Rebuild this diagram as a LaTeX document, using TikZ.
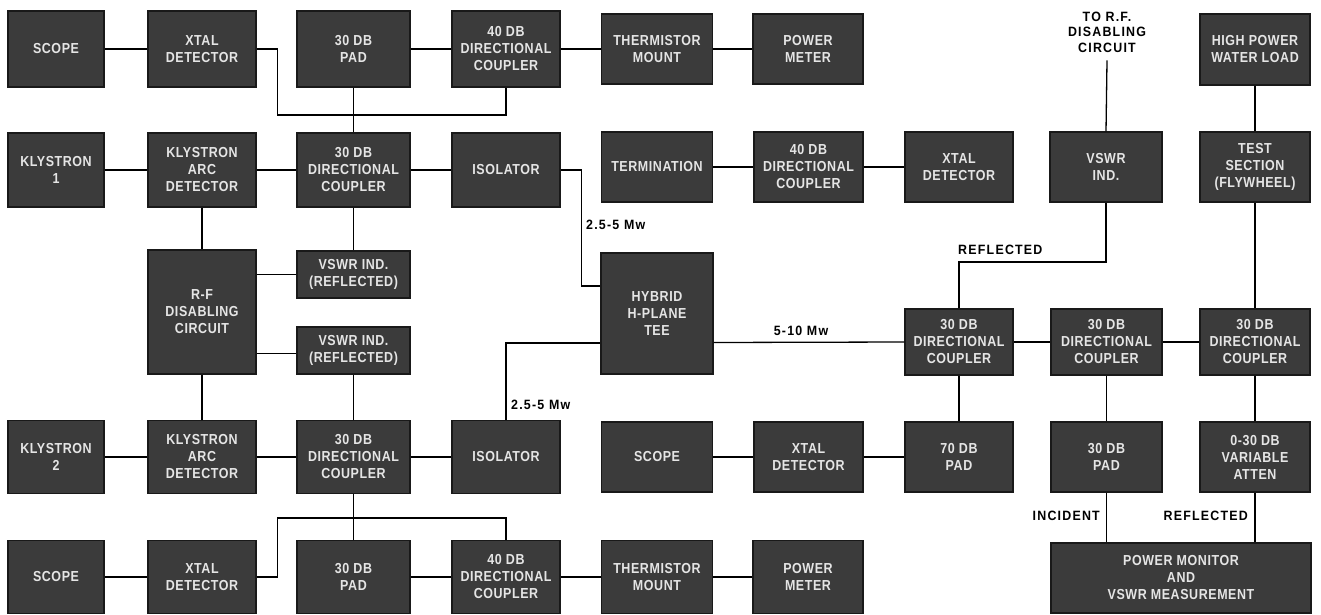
\documentclass[tikz,border=0pt]{standalone}
\usepackage{fontspec}
\newfontfamily\blkfont{Liberation Sans}[FakeStretch=0.86,LetterSpace=4]
\newfontfamily\labfont{Liberation Sans}[FakeStretch=0.92,LetterSpace=9]
\begin{document}
\begin{tikzpicture}[x=1pt,y=-1pt,
  blk/.style={draw=black!90,line width=1.2pt,fill=black!77,text=white!90!black,
    font=\blkfont\bfseries\fontsize{14.5}{17}\selectfont,align=center,
    inner sep=0pt,minimum width=108pt,minimum height=73pt},
  lbl/.style={font=\labfont\bfseries\fontsize{13.5}{15.5}\selectfont,inner sep=0pt},
  wire/.style={line width=1.3pt}]
  \useasboundingbox (0,0) rectangle (1321,615);
  % row 1
  \node[blk,minimum width=96pt,minimum height=76pt] (scopeA) at (56,49) {SCOPE};
  \node[blk,minimum height=76pt] (xtalA) at (202,49) {XTAL\\DETECTOR};
  \node[blk,minimum width=113pt,minimum height=76pt] (padA) at (353.5,49) {30 DB\\PAD};
  \node[blk,minimum height=76pt] (dcA) at (506,49) {40 DB\\DIRECTIONAL\\COUPLER};
  \node[blk,minimum width=111pt,minimum height=70pt] (thermA) at (657,49) {THERMISTOR\\MOUNT};
  \node[blk,minimum width=110pt,minimum height=70pt] (pmA) at (808,49) {POWER\\METER};
  \node[lbl,align=center] (tordc) at (1107,32) {TO R.F.\\DISABLING\\CIRCUIT};
  \node[blk,minimum width=110pt,minimum height=71pt] (water) at (1255,49.5) {HIGH POWER\\WATER LOAD};
  % row 2
  \node[blk,minimum width=96pt,minimum height=74pt] (klysA) at (56,170) {KLYSTRON\\1};
  \node[blk,minimum height=74pt] (arcA) at (202,170) {KLYSTRON\\ARC\\DETECTOR};
  \node[blk,minimum width=113pt,minimum height=74pt] (dcB) at (353.5,170) {30 DB\\DIRECTIONAL\\COUPLER};
  \node[blk,minimum height=74pt] (isoA) at (506,170) {ISOLATOR};
  \node[blk,minimum width=111pt,minimum height=70pt] (term) at (657,167) {TERMINATION};
  \node[blk,minimum width=109pt,minimum height=70pt] (dcT) at (808.5,167) {40 DB\\DIRECTIONAL\\COUPLER};
  \node[blk,minimum height=70pt] (xtalR) at (959,167) {XTAL\\DETECTOR};
  \node[blk,minimum width=112pt,minimum height=70pt] (vswrR) at (1106,167) {VSWR\\IND.};
  \node[blk,minimum width=110pt,minimum height=70pt] (test) at (1255,167) {TEST\\SECTION\\(FLYWHEEL)};
  % middle
  \node[blk,minimum height=124pt] (rf) at (202,312) {R-F\\DISABLING\\CIRCUIT};
  \node[blk,minimum width=113pt,minimum height=47pt] (vswrA) at (353.5,274.5) {VSWR IND.\\(REFLECTED)};
  \node[blk,minimum width=113pt,minimum height=47pt] (vswrB) at (353.5,350.5) {VSWR IND.\\(REFLECTED)};
  \node[blk,minimum width=112pt,minimum height=121pt] (hyb) at (657,313.5) {HYBRID\\H-PLANE\\TEE};
  \node[blk,minimum height=66pt] (dcR1) at (959,342) {30 DB\\DIRECTIONAL\\COUPLER};
  \node[blk,minimum width=111pt,minimum height=66pt] (dcR2) at (1106.5,342) {30 DB\\DIRECTIONAL\\COUPLER};
  \node[blk,minimum width=110pt,minimum height=66pt] (dcR3) at (1255,342) {30 DB\\DIRECTIONAL\\COUPLER};
  % row 4
  \node[blk,minimum width=96pt] (klysB) at (56,457) {KLYSTRON\\2};
  \node[blk] (arcB) at (202,457) {KLYSTRON\\ARC\\DETECTOR};
  \node[blk,minimum width=113pt] (dcC) at (353.5,457) {30 DB\\DIRECTIONAL\\COUPLER};
  \node[blk] (isoB) at (506,457) {ISOLATOR};
  \node[blk,minimum width=111pt,minimum height=70pt] (scopeB) at (657,457) {SCOPE};
  \node[blk,minimum width=109pt,minimum height=70pt] (xtalB) at (808.5,457) {XTAL\\DETECTOR};
  \node[blk,minimum height=70pt] (padS) at (959,457) {70 DB\\PAD};
  \node[blk,minimum width=111pt,minimum height=70pt] (padB) at (1106.5,457) {30 DB\\PAD};
  \node[blk,minimum width=110pt,minimum height=70pt] (atten) at (1255,457) {0-30 DB\\VARIABLE\\ATTEN};
  % row 5
  \node[blk,minimum width=96pt] (scopeC) at (56,577) {SCOPE};
  \node[blk] (xtalC) at (202,577) {XTAL\\DETECTOR};
  \node[blk,minimum width=113pt] (padC) at (353.5,577) {30 DB\\PAD};
  \node[blk] (dcD) at (506,577) {40 DB\\DIRECTIONAL\\COUPLER};
  \node[blk,minimum width=111pt] (thermB) at (657,577) {THERMISTOR\\MOUNT};
  \node[blk,minimum width=110pt] (pmB) at (808,577) {POWER\\METER};
  \node[blk,minimum width=260pt,minimum height=70pt] (pmon) at (1181,578) {POWER MONITOR\\AND\\VSWR MEASUREMENT};
  % upper chain
  \coordinate (forkA) at (353.5,115);
  \draw[wire] (scopeA) -- (xtalA);
  \draw[wire] (padA) -- (dcA) -- (thermA) -- (pmA);
  \draw[wire] (xtalA.east) -- ++(21,0) |- (forkA) -| (dcA.south);
  \draw[wire] (padA) -- (dcB);
  \draw[wire] (klysA) -- (arcA) -- (dcB) -- (isoA);
  \draw[wire] (arcA) -- (rf) -- (arcB);
  \draw[wire] (dcB) -- (vswrA);
  \draw[wire] (vswrA.west -| rf.east) -- (vswrA.west);
  \draw[wire] ([yshift=-3pt]vswrB.west -| rf.east) -- ([yshift=-3pt]vswrB.west);
  \draw[wire] (vswrB) -- (dcC);
  % lower chain
  \coordinate (forkB) at (353.5,518);
  \draw[wire] (klysB) -- (arcB) -- (dcC) -- (isoB);
  \draw[wire] (dcC) -- (padC);
  \draw[wire] (xtalC.east) -- ++(21,0) |- (forkB) -| (dcD.north);
  \draw[wire] (scopeC) -- (xtalC);
  \draw[wire] (padC) -- (dcD) -- (thermB) -- (pmB);
  % into the tee
  \draw[wire] (isoA.east) -- ++(21,0) |- ([yshift=27.5pt]hyb.west);
  \node[lbl,anchor=west] (pwrA) at (586,225) {2.5-5 Mw};
  \draw[wire] (isoB.north) |- ([yshift=-29.5pt]hyb.west);
  \node[lbl,anchor=west] (pwrB) at (511,405) {2.5-5 Mw};
  \draw[wire] ([yshift=-29pt]hyb.east) -- (dcR1.west);
  \node[lbl] (pwrC) at (801,331) {5-10 Mw};
  % right side
  \coordinate (bendR) at (1106,262);
  \draw[wire] (term) -- (dcT) -- (xtalR);
  \draw[wire] (dcR1.north) |- (bendR) -- (vswrR.south);
  \node[lbl,anchor=west] (reflA) at (958,250) {REFLECTED};
  \draw[wire] (tordc.south) ++(0,8) -- (vswrR.north);
  \draw[wire] (water) -- (test) -- (dcR3);
  \draw[wire] (dcR1) -- (dcR2) -- (dcR3);
  \draw[wire] (dcR1) -- (padS);
  \draw[wire] (dcR2) -- (padB);
  \draw[wire] (dcR3) -- (atten);
  \draw[wire] (scopeB) -- (xtalB) -- (padS);
  \draw[wire] (padB.south) -- (padB.south |- pmon.north);
  \draw[wire] (atten.south) -- (atten.south |- pmon.north);
  \node[lbl,anchor=east] (inc) at (1100,516) {INCIDENT};
  \node[lbl,anchor=east] (reflB) at (1248,516) {REFLECTED};
\end{tikzpicture}
\end{document}
